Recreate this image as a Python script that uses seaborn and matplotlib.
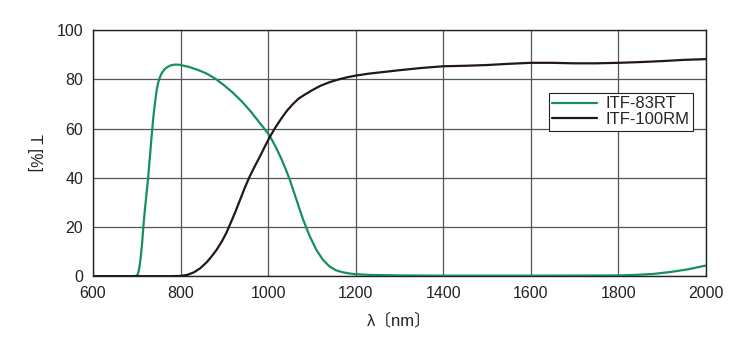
import matplotlib
matplotlib.use("Agg")
import matplotlib.pyplot as plt
import seaborn as sns
import pandas as pd

# Transmittance spectra of two filters
wl_83rt = [600, 695, 700, 703, 706, 709, 712, 715, 718, 722, 726, 730, 733, 736, 739,
           742, 745, 748, 752, 757, 763, 770, 778, 788, 798, 810, 820, 840, 860, 880,
           900, 920, 940, 960, 980, 1000, 1010, 1020, 1030, 1040, 1050, 1065, 1080,
           1095, 1110, 1125, 1140, 1155, 1170, 1185, 1200, 1230, 1300, 1400, 1600,
           1800, 1840, 1880, 1920, 1960, 2000]
t_83rt = [0, 0, 0.3, 1, 3.5, 7.5, 13, 20, 26, 33, 40, 48.5, 55, 61, 66.5,
          71, 75, 78, 80.5, 82.5, 84, 85, 85.7, 86, 85.9, 85.4, 85, 83.8, 82.3, 80.2,
          77.5, 74.5, 71, 67, 62.5, 58, 55, 51.6, 47.8, 43.6, 39, 31, 23,
          16.3, 10.8, 6.7, 4, 2.4, 1.6, 1.1, 0.8, 0.5, 0.3, 0.2, 0.2,
          0.3, 0.5, 0.9, 1.7, 2.8, 4.3]

wl_100rm = [600, 780, 800, 815, 830, 845, 860, 870, 882, 895, 905, 913, 925, 936, 947,
            958, 970, 981, 993, 1004, 1017, 1030, 1043, 1057, 1070, 1085, 1100, 1120,
            1140, 1160, 1180, 1200, 1230, 1260, 1300, 1350, 1400, 1450, 1500, 1550,
            1600, 1650, 1700, 1750, 1800, 1850, 1900, 1950, 2000]
t_100rm = [0, 0, 0.1, 0.5, 1.5, 3.2, 5.7, 7.8, 10.6, 14.3, 17.7, 21, 26, 31, 36,
           40.5, 44.8, 48.5, 52.8, 56.6, 60.5, 64, 67.2, 70, 72.2, 73.9, 75.5, 77.4,
           78.8, 79.9, 80.8, 81.5, 82.3, 82.9, 83.7, 84.6, 85.3, 85.5, 85.8, 86.3,
           86.7, 86.7, 86.5, 86.5, 86.7, 87, 87.4, 87.9, 88.2]

names = ["ITF-83RT", "ITF-100RM"]
colors = ["#16905a", "#231815"]

df = pd.concat([
    pd.DataFrame({"wl": wl_83rt, "T": t_83rt, "filter": names[0]}),
    pd.DataFrame({"wl": wl_100rm, "T": t_100rm, "filter": names[1]}),
], ignore_index=True)

sns.set_theme(style="white")
plt.rcParams["font.family"] = ["Liberation Sans", "Noto Sans CJK JP", "DejaVu Sans"]

fig = plt.figure(figsize=(7.5, 3.5), dpi=100)
ax = fig.add_axes([0.124, 0.211, 0.817, 0.703])

sns.lineplot(data=df, x="wl", y="T", hue="filter", hue_order=names,
             palette=colors, linewidth=1.6, ax=ax, sort=False,
             estimator=None, zorder=3)
for ln in ax.get_lines():
    ln.set_solid_joinstyle("round")

ax.set_xlim(600, 2000)
ax.set_ylim(0, 100)
ax.set_xticks(range(600, 2001, 200))
ax.set_yticks(range(0, 101, 20))
ax.grid(True, color="#555555", linewidth=0.9)
ax.tick_params(length=0, labelsize=11.5, colors="#222222", pad=7)
for s in ax.spines.values():
    s.set_color("#222222")
    s.set_linewidth(1.0)

ax.set_xlabel("λ〔nm〕", fontsize=12, color="#222222", labelpad=8)
ax.set_ylabel("T [%]", fontsize=11.5, color="#222222", rotation=270,
              labelpad=18, va="center")
ax.yaxis.set_label_coords(-0.095, 0.5)

leg = ax.legend(loc="upper right", bbox_to_anchor=(0.979, 0.744),
                fancybox=False, framealpha=1, edgecolor="#222222",
                fontsize=12, handlelength=2.7, borderpad=0.2,
                labelspacing=0.05, borderaxespad=0, handletextpad=0.5)
leg.get_frame().set_linewidth(0.8)

fig.savefig("out.png", dpi=100)
